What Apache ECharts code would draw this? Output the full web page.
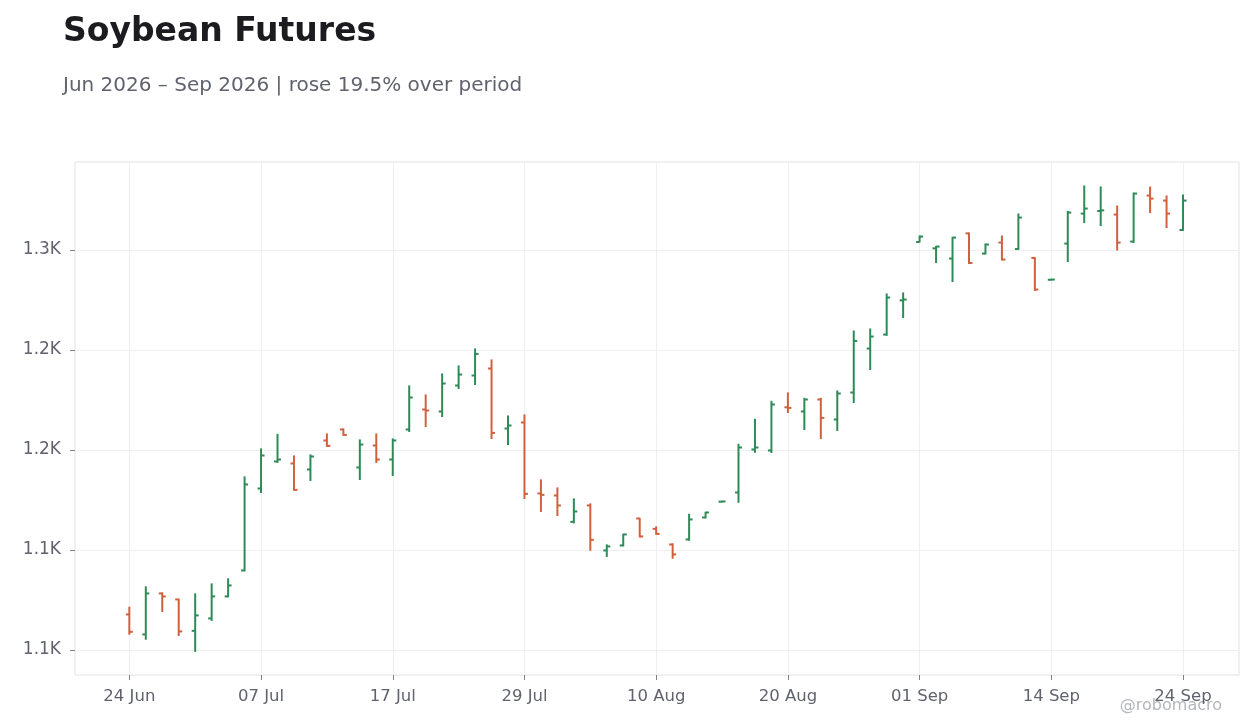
<!DOCTYPE html>
<html>
<head>
<meta charset="utf-8">
<script src="https://cdn.jsdelivr.net/npm/echarts@6/dist/echarts.min.js"></script>
<style>
html,body{margin:0;padding:0;background:#fff;}
#chart{width:1260px;height:728px;}
</style>
</head>
<body>
<div id="chart"></div>
<script>
// Trading days (weekends and US holidays skipped)
const dates = [
  '2026-06-24','2026-06-25','2026-06-26','2026-06-29','2026-06-30',
  '2026-07-01','2026-07-02','2026-07-06','2026-07-07','2026-07-08','2026-07-09','2026-07-10',
  '2026-07-13','2026-07-14','2026-07-15','2026-07-16','2026-07-17',
  '2026-07-20','2026-07-21','2026-07-22','2026-07-23','2026-07-24',
  '2026-07-27','2026-07-28','2026-07-29','2026-07-30','2026-07-31',
  '2026-08-03','2026-08-04','2026-08-05','2026-08-06','2026-08-07',
  '2026-08-10','2026-08-11','2026-08-12','2026-08-13','2026-08-14',
  '2026-08-17','2026-08-18','2026-08-19','2026-08-20','2026-08-21',
  '2026-08-24','2026-08-25','2026-08-26','2026-08-27','2026-08-28',
  '2026-08-31','2026-09-01','2026-09-02','2026-09-03','2026-09-04',
  '2026-09-08','2026-09-09','2026-09-10','2026-09-11',
  '2026-09-14','2026-09-15','2026-09-16','2026-09-17','2026-09-18',
  '2026-09-21','2026-09-22','2026-09-23','2026-09-24'
];
const openV = [1117.7,1107.7,1128.2,1125.2,1109.5,1115.7,1126.7,1139.7,1180.7,1194.2,
  1193.2,1190.2,1204.7,1210.2,1191.2,1202.2,1195.2,1210.2,1220.2,1219.2,
  1232.2,1237.2,1240.7,1210.7,1213.7,1178.2,1177.2,1164.0,1172.2,1149.7,
  1152.2,1165.7,1160.5,1152.7,1155.2,1166.2,1174.1,1178.7,1200.2,1199.7,
  1221.3,1219.2,1225.2,1215.2,1228.7,1250.7,1257.7,1274.8,1304.0,1300.8,
  1295.7,1308.3,1298.2,1303.7,1300.5,1296.0,1285.1,1303.2,1318.2,1319.5,
  1317.7,1304.2,1327.2,1324.7,1310.0];
const highV = [1121.3,1131.5,1128.5,1125.3,1128.0,1133.0,1135.5,1186.5,1200.5,1207.8,
  1197.0,1197.5,1208.0,1210.5,1205.0,1208.0,1205.5,1232.0,1227.5,1238.0,
  1242.0,1250.5,1245.0,1217.0,1217.5,1185.0,1181.0,1175.5,1173.0,1152.5,
  1157.8,1165.8,1161.5,1153.0,1167.8,1168.8,1174.3,1202.8,1215.3,1224.3,
  1228.5,1225.8,1225.8,1229.5,1259.5,1260.5,1278.0,1278.5,1307.0,1301.8,
  1306.3,1308.5,1303.0,1307.0,1318.0,1296.2,1285.3,1319.3,1332.0,1331.5,
  1322.0,1328.5,1331.5,1327.0,1327.5];
const lowV = [1107.8,1105.3,1119.2,1107.2,1099.2,1114.7,1126.5,1139.5,1178.7,1193.8,
  1179.8,1184.7,1201.8,1207.3,1185.2,1193.7,1187.2,1209.2,1211.7,1216.7,
  1230.7,1232.7,1205.7,1202.7,1175.7,1169.2,1167.2,1163.5,1149.8,1146.7,
  1152.0,1156.5,1157.8,1145.8,1154.8,1166.0,1174.0,1173.8,1198.8,1198.7,
  1218.7,1210.2,1205.7,1209.7,1223.7,1240.2,1257.3,1266.2,1304.0,1293.7,
  1284.2,1293.2,1298.0,1295.0,1300.3,1279.8,1285.0,1294.2,1313.7,1312.2,
  1300.0,1303.8,1318.7,1311.2,1309.8];
const closeV = [1109.0,1128.2,1126.7,1109.2,1117.2,1126.7,1132.2,1182.7,1197.2,1195.2,
  1180.0,1196.7,1202.0,1207.5,1202.7,1195.2,1204.7,1226.2,1219.7,1233.2,
  1237.7,1248.0,1208.5,1212.2,1178.0,1177.5,1172.2,1169.2,1155.0,1151.7,
  1157.7,1156.7,1158.0,1147.7,1165.2,1168.7,1174.2,1201.2,1201.2,1222.7,
  1221.0,1225.2,1216.0,1228.2,1254.5,1256.7,1276.2,1275.2,1306.7,1301.7,
  1306.2,1293.5,1302.7,1295.2,1316.2,1280.2,1285.2,1318.7,1320.7,1319.8,
  1303.7,1328.2,1325.7,1318.2,1324.7];
const xTickIndex = [0,8,16,24,32,40,48,56,64];
const yTickValues = [1100,1150,1200,1250,1300];
const yTickLabels = ['1.1K','1.1K','1.2K','1.2K','1.3K'];
const monthNames = ['Jan','Feb','Mar','Apr','May','Jun','Jul','Aug','Sep','Oct','Nov','Dec'];

const UP = '#2e8b57', DOWN = '#d1603d';
const FONT = 'DejaVu Sans';

const seriesData = dates.map((d, i) => [i, openV[i], highV[i], lowV[i], closeV[i]]);

function fmtDate(s) {
  const p = s.split('-');
  return p[2] + ' ' + monthNames[parseInt(p[1], 10) - 1];
}

function renderItem(params, api) {
  const idx = api.value(0);
  const o = api.value(1), h = api.value(2), l = api.value(3), c = api.value(4);
  const x = api.coord([idx, o])[0];
  const yo = api.coord([idx, o])[1];
  const yh = api.coord([idx, h])[1];
  const yl = api.coord([idx, l])[1];
  const yc = api.coord([idx, c])[1];
  const color = c >= o ? UP : DOWN;
  const st = { stroke: color, lineWidth: 2, lineCap: 'butt' };
  const t = 3.5;
  return {
    type: 'group',
    children: [
      { type: 'line', shape: { x1: x, y1: yh - 0.5, x2: x, y2: yl + 0.5 }, style: st },
      { type: 'line', shape: { x1: x - t, y1: yo, x2: x, y2: yo }, style: st },
      { type: 'line', shape: { x1: x, y1: yc, x2: x + t, y2: yc }, style: st }
    ]
  };
}

const chart = echarts.init(document.getElementById('chart'));
chart.setOption({
  animation: false,
  backgroundColor: '#ffffff',
  title: [
    { text: 'Soybean Futures', left: 58, top: 11,
      textStyle: { fontFamily: FONT, fontSize: 33, fontWeight: 'bold', color: '#1b1b20' } },
    { text: 'Jun 2026 – Sep 2026 | rose 19.5% over period', left: 58, top: 71,
      textStyle: { fontFamily: FONT, fontSize: 20, fontWeight: 'normal', color: '#60636d' } }
  ],
  graphic: [
    { type: 'text', right: 38, top: 698,
      style: { text: '@robomacro', font: '16px "DejaVu Sans"', fill: '#b4b6ba' } }
  ],
  grid: { left: 75, right: 21, top: 162, bottom: 53, show: true, borderColor: '#e2e2e2', borderWidth: 1 },
  xAxis: {
    type: 'value', min: -3.3, max: 67.4,
    axisLine: { show: false, onZero: false },
    axisTick: { show: true, length: 5, customValues: xTickIndex, lineStyle: { color: '#7d8088' } },
    axisLabel: { customValues: xTickIndex, margin: 13, fontFamily: FONT, fontSize: 16.5, color: '#60636d',
      formatter: v => { const i = Math.round(v); return dates[i] ? fmtDate(dates[i]) : ''; } },
    splitLine: { show: true, lineStyle: { color: '#efefef', width: 1 } }
  },
  yAxis: {
    type: 'value', min: 1087.4, max: 1344,
    axisLine: { show: false, onZero: false },
    axisTick: { show: true, length: 5, customValues: yTickValues, lineStyle: { color: '#7d8088' } },
    axisLabel: { customValues: yTickValues, margin: 14, fontFamily: FONT, fontSize: 17, color: '#60636d',
      formatter: v => { const k = yTickValues.indexOf(Math.round(v)); return k >= 0 ? yTickLabels[k] : ''; } },
    splitLine: { show: true, lineStyle: { color: '#efefef', width: 1 } }
  },
  series: [{
    type: 'custom',
    renderItem: renderItem,
    encode: { x: 0, y: [1, 2, 3, 4] },
    data: seriesData
  }]
});
</script>
</body>
</html>
